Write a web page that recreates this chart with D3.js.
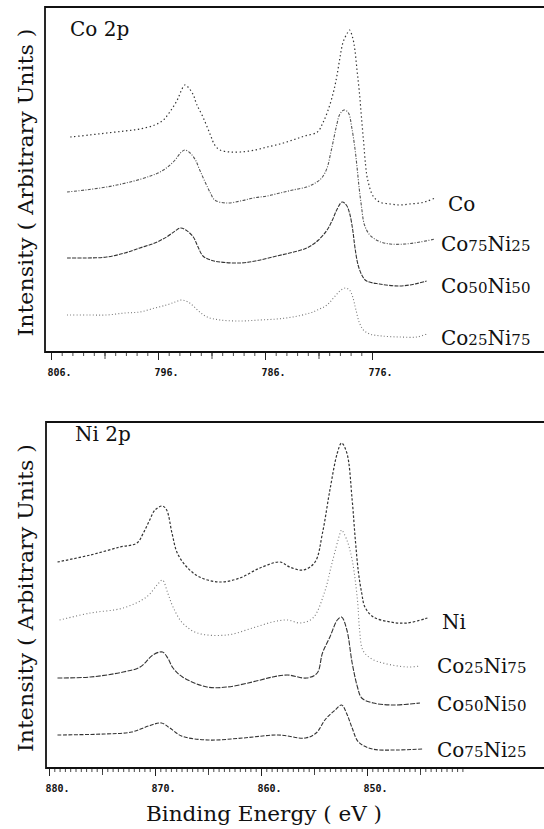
<!DOCTYPE html>
<html><head><meta charset="utf-8">
<script src="https://cdn.jsdelivr.net/npm/d3@7"></script>
<style>body{margin:0;background:#fff}svg{display:block}</style>
</head><body><svg id="c" width="544" height="829"></svg>
<script>
// ---------- DATA ----------
const coTickLabels = [806, 796, 786, 776];
const niTickLabels = [880, 870, 860, 850];
const coSeriesNames = ["Co", "Co75Ni25", "Co50Ni50", "Co25Ni75"];
const niSeriesNames = ["Ni", "Co25Ni75", "Co50Ni50", "Co75Ni25"];

// Co 2p panel: [binding energy (eV), intensity (arb.)]
const coPure = [[804.2,215],[802.4,217],[800.8,219],[799.1,221],[797.7,223],[796.3,227],[795.5,232],[794.9,240],[794.2,252],[793.8,262],[793.5,267],[793.2,265],[792.7,257],[792.4,248],[791.8,235],[791.1,217],[790.7,207],[790.2,202],[789.3,200],[788.3,200],[786.9,202],[785.8,205],[784.6,208],[783.4,212],[782.3,216],[781.1,220],[780.6,229],[780.1,242],[779.6,260],[779.3,275],[779.0,294],[778.7,310],[778.3,319],[778.1,322],[777.8,314],[777.6,302],[777.4,282],[777.2,262],[777.0,237],[776.8,212],[776.6,187],[776.4,172],[775.9,156],[775.3,150],[774.3,148],[773.4,147],[772.5,148],[771.5,149],[770.8,151],[770.1,154]];
const coCo75Ni25 = [[804.5,160],[802.8,162],[800.8,165],[798.6,170],[796.7,176],[795.8,180],[795.1,185],[794.4,192],[793.9,199],[793.5,202],[793.0,199],[792.5,192],[792.1,182],[791.6,170],[791.1,159],[790.7,152],[789.6,149],[788.3,151],[787.1,154],[785.8,156],[784.6,159],[783.4,162],[782.1,165],[781.3,169],[780.7,174],[780.2,184],[779.9,197],[779.6,212],[779.3,227],[779.0,238],[778.6,242],[778.2,239],[777.9,225],[777.6,204],[777.4,185],[777.2,164],[777.0,147],[776.7,127],[776.2,117],[775.4,111],[774.3,108],[772.9,108],[771.5,110],[770.1,113]];
const coCo50Ni50 = [[804.5,94],[802.8,94],[800.8,95],[799.1,99],[797.7,104],[796.3,109],[795.2,115],[794.4,121],[793.9,124],[793.4,122],[792.7,115],[792.3,106],[791.8,96],[791.1,92],[790.2,90],[788.3,89],[786.9,91],[785.3,95],[783.7,99],[782.1,104],[781.0,112],[780.2,122],[779.7,132],[779.3,142],[778.8,150],[778.4,147],[778.1,139],[777.8,122],[777.6,105],[777.3,87],[776.9,76],[776.5,71],[775.3,68],[773.4,66],[772.0,68],[770.9,71]];
const coCo25Ni75 = [[804.5,37],[802.4,37],[800.8,37],[799.1,39],[797.7,40],[796.3,44],[795.2,47],[794.4,50],[793.8,52],[793.2,50],[792.7,46],[792.1,40],[791.4,35],[790.2,32],[788.3,31],[786.5,32],[784.9,33],[783.4,35],[781.8,39],[780.9,43],[780.2,47],[779.6,54],[779.0,61],[778.5,64],[778.1,62],[777.8,55],[777.5,42],[777.2,30],[776.8,22],[776.2,18],[775.1,16],[773.4,15],[771.8,15],[770.9,18]];

// Ni 2p panel
const niPure = [[879.2,206],[876.1,213],[873.3,221],[871.7,225],[871.1,235],[870.5,248],[870.0,258],[869.3,262],[868.9,258],[868.4,235],[867.9,215],[867.0,201],[865.8,191],[863.9,186],[862.0,190],[860.1,200],[858.2,206],[857.3,201],[856.0,198],[854.9,206],[854.2,235],[853.5,278],[852.8,315],[852.4,325],[851.9,315],[851.4,268],[851.1,228],[850.8,195],[850.5,175],[850.2,161],[849.4,151],[847.8,146],[846.2,145],[844.3,150]];
const niCo25Ni75 = [[879.0,148],[876.1,155],[873.0,160],[870.8,171],[869.8,183],[869.3,188],[868.8,175],[868.3,161],[867.4,145],[866.0,135],[863.2,133],[860.8,140],[858.9,146],[857.5,148],[856.3,145],[855.1,150],[854.0,176],[853.3,205],[852.5,236],[852.4,238],[851.9,228],[851.4,208],[850.9,168],[850.7,138],[850.4,118],[849.7,110],[848.5,105],[846.2,101],[845.0,102]];
const niCo50Ni50 = [[879.2,90],[876.1,91],[873.0,96],[871.4,101],[870.2,113],[869.3,116],[868.8,110],[868.3,100],[867.4,91],[865.1,81],[863.2,81],[860.8,86],[858.9,91],[857.5,93],[855.7,90],[854.7,95],[854.2,115],[853.5,131],[852.8,148],[852.4,151],[851.9,138],[851.4,105],[850.9,81],[850.5,70],[849.4,65],[847.5,63],[845.0,65]];
const niCo75Ni25 = [[879.2,33],[874.8,34],[872.2,36],[870.6,42],[869.4,45],[868.6,40],[867.5,32],[865.0,28],[861.7,30],[858.4,33],[855.8,30],[854.8,35],[853.9,49],[853.0,58],[852.4,63],[851.9,54],[851.4,40],[850.8,26],[849.5,19],[847.3,18],[844.8,19]];

// ---------- LAYOUT ----------
const svg = d3.select("#c");
const serif = "'DejaVu Serif', serif";
const coStyles = [["1.4,2.6", 1.2, "#333"], ["3,1.5,1,1.5", 1.1, "#555"], ["4,1.2", 1.1, "#333"], ["1,2.2", 1.1, "#777"]];
const niStyles = [["2.5,1.8", 1.2, "#333"], ["1,2.4", 1.1, "#777"], ["5,1.4", 1.1, "#333"], ["4,1.5", 1.1, "#333"]];

const panels = [
  {title: "Co 2p", titleX: 70, titleY: 36, left: 45, top: 7, bottom: 352,
   dom: [806, 776], rng: [51, 372], yMax: 345, tickLabels: coTickLabels,
   minorStep: 1, tickEnd: 776, labelX: 441, firstLabelX: 448, styles: coStyles,
   names: coSeriesNames, series: [coPure, coCo75Ni25, coCo50Ni50, coCo25Ni75]},
  {title: "Ni 2p", titleX: 75, titleY: 441, left: 46, top: 422, bottom: 768,
   dom: [880, 850], rng: [49, 367], yMax: 346, tickLabels: niTickLabels,
   minorStep: 0.5, tickEnd: 841, labelX: 437, firstLabelX: 442, styles: niStyles,
   names: niSeriesNames, series: [niPure, niCo25Ni75, niCo50Ni50, niCo75Ni25]}
];

panels.forEach(p => {
  const g = svg.append("g");
  const x = d3.scaleLinear().domain(p.dom).range(p.rng);
  const y = d3.scaleLinear().domain([0, p.yMax]).range([p.bottom, p.top]);

  // frame (open on the right)
  g.append("path")
    .attr("d", `M560,${p.top}H${p.left}V${p.bottom}H560`)
    .attr("fill", "none").attr("stroke", "#111").attr("stroke-width", 1.8);

  // ticks
  const start = p.dom[0];
  const minor = d3.range(start, p.tickEnd - 1e-6, -p.minorStep);
  const mid = d3.range(start, p.tickEnd - 1e-6, -5);
  const axMinor = d3.axisBottom(x).tickValues(minor).tickSize(3).tickFormat("");
  const axMid = d3.axisBottom(x).tickValues(mid).tickSize(6).tickFormat("");
  const axMaj = d3.axisBottom(x).tickValues(p.tickLabels).tickSize(7).tickFormat(d => d + ".");
  [axMinor, axMid].forEach(a => {
    const ga = g.append("g").attr("transform", `translate(0,${p.bottom + 1})`).call(a);
    ga.select(".domain").remove();
    ga.selectAll("line").attr("stroke", "#333").attr("stroke-width", 0.9);
  });
  const gm = g.append("g").attr("transform", `translate(0,${p.bottom + 1})`).call(axMaj);
  gm.select(".domain").remove();
  gm.selectAll("line").attr("stroke", "#222").attr("stroke-width", 1);
  gm.selectAll("text").attr("text-anchor", "start").attr("x", -4).attr("y", 16).attr("dy", "0.71em")
    .attr("font-family", "'DejaVu Sans Mono', monospace").attr("font-weight", "bold")
    .attr("font-size", 10).attr("fill", "#111");

  // traces
  const line = d3.line().x(d => x(d[0])).y(d => y(d[1])).curve(d3.curveCatmullRom.alpha(0.5));
  p.series.forEach((s, i) => {
    const st = p.styles[i];
    g.append("path").datum(s).attr("d", line)
      .attr("fill", "none").attr("stroke", st[2]).attr("stroke-width", st[1])
      .attr("stroke-dasharray", st[0]);
    const tail = d3.mean(s.slice(-4), d => d[1]);
    const t = g.append("text")
      .attr("x", i === 0 ? p.firstLabelX : p.labelX)
      .attr("y", y(tail) + 9)
      .attr("font-family", serif).attr("font-size", 20).attr("fill", "#111");
    // split name into letters and (smaller) digits
    p.names[i].match(/[A-Za-z]+|\d+/g).forEach(part => {
      t.append("tspan").text(part).attr("font-size", /\d/.test(part) ? 15 : 20);
    });
  });

  // panel title
  g.append("text").attr("x", p.titleX).attr("y", p.titleY).text(p.title)
    .attr("font-family", serif).attr("font-size", 20).attr("fill", "#111");

  // y title
  g.append("text")
    .attr("transform", `translate(33,${(p.top + p.bottom) / 2 + 3}) rotate(-90)`)
    .attr("text-anchor", "middle").text("Intensity ( Arbitrary Units )")
    .attr("textLength", 308).attr("lengthAdjust", "spacingAndGlyphs")
    .attr("font-family", serif).attr("font-size", 20).attr("fill", "#111");
});

svg.append("text").attr("x", 264).attr("y", 821).attr("text-anchor", "middle")
  .text("Binding Energy ( eV )").attr("textLength", 236).attr("lengthAdjust", "spacingAndGlyphs")
  .attr("font-family", serif).attr("font-size", 20).attr("fill", "#111");
</script></body></html>
